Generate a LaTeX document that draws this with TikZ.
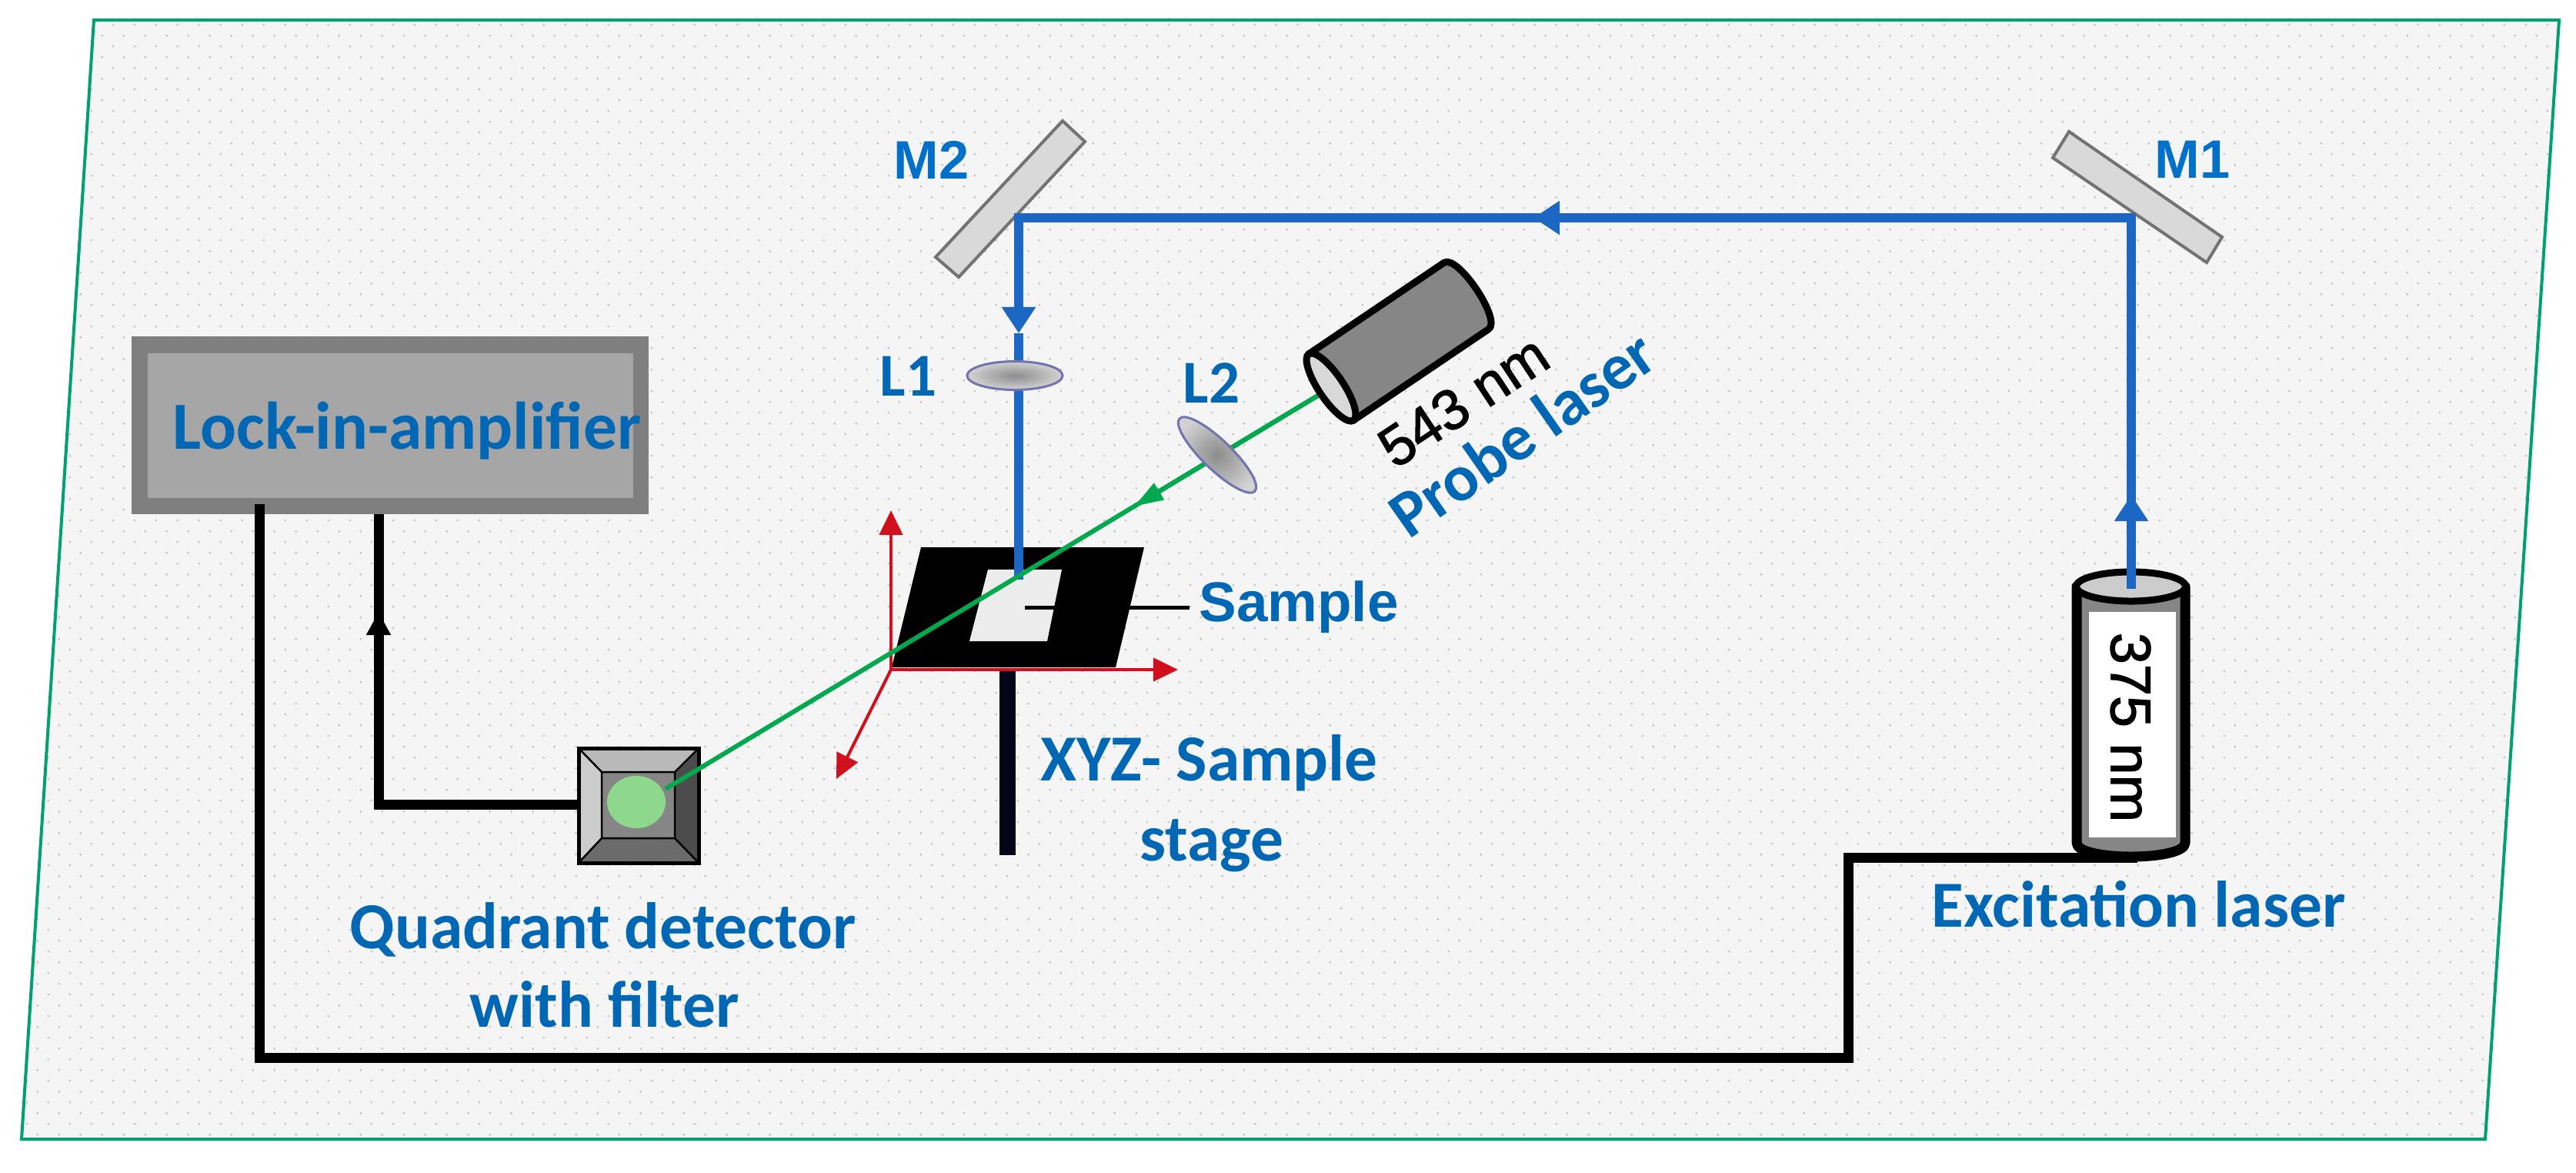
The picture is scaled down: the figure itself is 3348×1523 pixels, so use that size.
\documentclass[tikz,border=0pt]{standalone}
\usepackage{fontspec}
\setmainfont{Carlito}
\newfontfamily\arialf{Liberation Sans}
\newfontfamily\arialm{Liberation Sans}[FakeBold=1.6]
\usetikzlibrary{arrows.meta,shapes.geometric,patterns}
\pgfdeclarepatternformonly{paperdots}{\pgfqpoint{0pt}{0pt}}{\pgfqpoint{8.07pt}{8.07pt}}{\pgfqpoint{8.07pt}{8.07pt}}{%
  \pgfpathcircle{\pgfqpoint{2pt}{2pt}}{0.5pt}%
  \pgfpathcircle{\pgfqpoint{6.03pt}{6.03pt}}{0.5pt}%
  \pgfusepath{fill}}
\definecolor{tb}{HTML}{0067B5}
\definecolor{mb}{HTML}{0070C8}
\definecolor{beamc}{HTML}{1C66C4}
\definecolor{grn}{HTML}{00A850}
\definecolor{redc}{HTML}{D0101C}
\definecolor{framec}{HTML}{00A070}
\definecolor{paper}{HTML}{F5F5F5}
\tikzset{
  lab/.style={anchor=base west,inner sep=0pt,text=tb,font=\bfseries\fontsize{24.3}{28}\selectfont},
  lsm/.style={lab,font=\bfseries\fontsize{22.5}{26}\selectfont},
  mlab/.style={anchor=base west,inner sep=0pt,text=mb,font=\arialf\bfseries\fontsize{20}{23}\selectfont},
  blk/.style={inner sep=0pt,text=black,font=\arialm\fontsize{21}{24}\selectfont},
  wire/.style={draw=black,line width=0.13cm,line join=miter},
  beam/.style={draw=beamc,line width=0.125cm},
  gbeam/.style={draw=grn,line width=0.06cm},
  axis/.style={draw=redc,line width=0.04cm,-{Triangle[length=0.32cm,width=0.3cm]}},
  mirror/.style={draw=gray!90!black,fill=gray!30,line width=0.04cm},
  lens/.style={ellipse,inner sep=0pt,draw=black!55!blue!55,line width=0.03cm,inner color=gray!90,outer color=gray!35},
  btip/.style={-{Triangle[length=0.34cm,width=0.42cm]}},
}
\begin{document}
\begin{tikzpicture}[x=0.01cm,y=-0.01cm]
\useasboundingbox (0,0) rectangle (3348,1523);
\fill[white] (0,0) rectangle (3348,1523);
% plane
\coordinate (p1) at (122,26); \coordinate (p2) at (3326,26);
\coordinate (p3) at (3230,1480); \coordinate (p4) at (28,1480);
\fill[paper] (p1)--(p2)--(p3)--(p4)--cycle;
\fill[pattern=paperdots,pattern color=gray!45] (p1)--(p2)--(p3)--(p4)--cycle;
\draw[framec,line width=0.04cm] (p1)--(p2)--(p3)--(p4)--cycle;

% lock-in amplifier
\node[draw=none,fill={rgb,255:red,127;green,127;blue,127},minimum width=6.72cm,minimum height=2.31cm,inner sep=0pt] (lockin) at (507,552.5) {};
\node[fill={rgb,255:red,166;green,166;blue,166},minimum width=6.31cm,minimum height=1.88cm,inner sep=0pt] (lockinface) at (507.5,553) {};
\node[lab,font=\bfseries\fontsize{24.9}{28}\selectfont] (lockintext) at (224,583) {Lock-in-amplifier};

% detector
\coordinate (do1) at (752,972); \coordinate (do2) at (908,972);
\coordinate (do3) at (908,1121); \coordinate (do4) at (752,1121);
\coordinate (di1) at (782,1003); \coordinate (di2) at (877,1003);
\coordinate (di3) at (877,1089); \coordinate (di4) at (782,1089);
\fill[gray!55] (do1)--(do2)--(di2)--(di1)--cycle;
\fill[gray!40] (do1)--(di1)--(di4)--(do4)--cycle;
\fill[black!70] (do2)--(do3)--(di3)--(di2)--cycle;
\fill[black!58] (do4)--(do3)--(di3)--(di4)--cycle;
\fill[gray!95] (di1)--(di2)--(di3)--(di4)--cycle;
\draw[black,line width=0.025cm] (do1)--(di1) (do2)--(di2) (do3)--(di3) (do4)--(di4) (di1)--(di2)--(di3)--(di4)--cycle;
\draw[black,line width=0.05cm] (do1)--(do2)--(do3)--(do4)--cycle;
\node[ellipse,fill={rgb,255:red,142;green,216;blue,142},minimum width=0.76cm,minimum height=0.68cm,inner sep=0pt] (spot) at (827,1042) {};
\coordinate (dleft) at (750,1045);

% signal wires
\coordinate (w1a) at (337,655); \coordinate (w1b) at (337,1374);
\coordinate (w1c) at (2402,1374); \coordinate (w1d) at (2402,1114); \coordinate (w1e) at (2778,1114);
\coordinate (w2a) at (492,668); \coordinate (w2tip) at (492,795); \coordinate (w2c) at (492,1045);
\draw[wire] (w1a)--(w1b)--(w1c)--(w1d)--(w1e);
\draw[wire] (dleft)--(w2c)--(w2a);
\draw[wire,-{Triangle[length=0.3cm,width=0.3cm]}] (w2c)--(w2tip);

% stage
\coordinate (st1) at (1197,711); \coordinate (st2) at (1487,711);
\coordinate (st3) at (1450,867); \coordinate (st4) at (1159,867);
\coordinate (post1) at (1309,868); \coordinate (post2) at (1309,1111);
\draw[draw={rgb,255:red,5;green,5;blue,25},line width=0.21cm] (post1)--(post2);
\fill[black] (st1)--(st2)--(st3)--(st4)--cycle;
\fill[gray!15] (1284,740)--(1380,740)--(1361,833)--(1260,833)--cycle;
\coordinate (samp) at (1332,789); \coordinate (sampe) at (1546,789);
\draw[black,line width=0.05cm] (samp)--(sampe);

% red axes
\coordinate (orig) at (1158,870);
\coordinate (az) at (1158,663); \coordinate (ax) at (1531,870); \coordinate (ay) at (1087,1012);
\draw[axis] (orig)--(az);
\draw[axis] (orig)--(ax);
\draw[axis] (orig)--(ay);

% mirrors
\draw[mirror] (2689,171)--(2888,308)--(2868,341)--(2668,205)--cycle;
\draw[mirror] (1381,157)--(1410,184)--(1246,360)--(1216,334)--cycle;
\coordinate (m1) at (2770,283); \coordinate (m2) at (1324,283);

% excitation beam
\coordinate (las) at (2770,765); \coordinate (uptip) at (2770,643);
\coordinate (ltip) at (1993,283); \coordinate (dtip) at (1324,433); \coordinate (sam) at (1324,753);
\draw[beam,btip] (las)--(uptip);
\draw[beam] (uptip)--(m1)--(ltip);
\draw[beam,btip] (m1)--(ltip);
\draw[beam] (ltip)--(m2);
\draw[beam,btip,line cap=rect] (m2)--(dtip);
\draw[beam] (dtip)--(sam);

% green probe beam
\coordinate (gs) at (1721,509); \coordinate (gt) at (1474,658); \coordinate (ge) at (865,1025);
\draw[gbeam] (gs)--(ge);
\draw[gbeam,-{Triangle[length=0.38cm,width=0.24cm]}] (gs)--(gt);

% lenses
\node[lens,minimum width=1.24cm,minimum height=0.37cm] (L1lens) at (1319,488) {};
\node[lens,minimum width=1.36cm,minimum height=0.38cm,rotate=-44] (L2lens) at (1582,591) {};

% probe laser
\begin{scope}[shift={(1730,503)},rotate=34]
\draw[black,line width=0.09cm,line join=round,fill=gray!95] (0,-52)--(212,-52) .. controls (233,-52) and (233,52) .. (212,52)--(0,52)--cycle;
\draw[black,line width=0.09cm,fill=gray!30] (0,0) ellipse [x radius=0.16cm,y radius=0.52cm];
\end{scope}

% excitation laser
\draw[black,line width=0.13cm,fill=gray!95,line join=round] (2699,762)--(2699,1095) .. controls (2699,1119) and (2840,1119) .. (2840,1095)--(2840,762)--cycle;
\fill[white] (2715,795) rectangle (2828,1088);
\draw[black,line width=0.09cm,fill=gray!40] (2769.5,762) ellipse [x radius=0.71cm,y radius=0.19cm];
\draw[beam] (uptip)--(las);

% labels
\node[mlab] (m1l) at (2800,231) {M1};
\node[mlab] (m2l) at (1161,232) {M2};
\node[lsm] (l1l) at (1143,514) {L1};
\node[lsm] (l2l) at (1537,523) {L2};
\node[lab,font=\arialf\bfseries\fontsize{20.7}{24}\selectfont] (sl) at (1558,807) {Sample};
\node[lab] (xyz) at (1352,1014) {XYZ- Sample};
\node[lab] (stg) at (1481,1118) {stage};
\node[lab] (qd) at (454,1232) {Quadrant detector};
\node[lab] (wf) at (610,1334) {with filter};
\node[lab] (exl) at (2510,1204) {Excitation laser};
\node[lab,anchor=center,rotate=35] (pl) at (1978,563) {Probe laser};
\node[blk,rotate=33.5] (t543) at (1902,521) {543 nm};
\node[blk,rotate=-90] (t375) at (2769,945) {375 nm};
\end{tikzpicture}
\end{document}
